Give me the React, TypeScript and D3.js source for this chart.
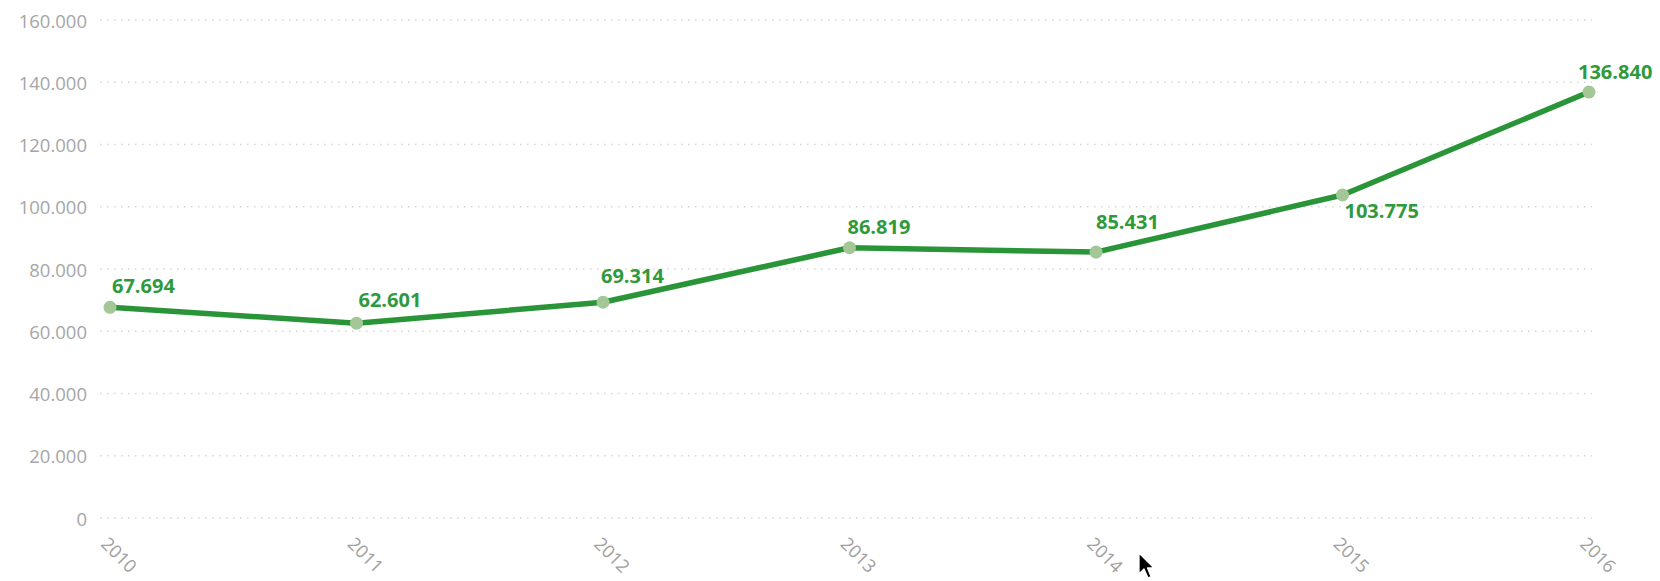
import React from "react";
import * as d3 from "d3";

const years = ["2010", "2011", "2012", "2013", "2014", "2015", "2016"];
const values = [67.694, 62.601, 69.314, 86.819, 85.431, 103.775, 136.84];
const yTicks = [0, 20, 40, 60, 80, 100, 120, 140, 160];

// label placement relative to each point (dx, baseline dy)
const labelOffsets: [number, number][] = [
  [2, -14],
  [2, -16],
  [-2, -19],
  [-2, -14],
  [0, -23],
  [2, 23],
  [-11, -13],
];

const W = 1660;
const H = 581;

const fmtLabel = (v: number) => d3.format(".3f")(v);
const fmtTick = (v: number) => (v === 0 ? "0" : `${v}.000`);

export default function App() {
  const x = d3.scalePoint<string>().domain(years).range([110, 1589]);
  const y = d3.scaleLinear().domain([0, 160]).range([518, 20]);
  const line = d3
    .line<number>()
    .x((_, i) => x(years[i]) as number)
    .y((d) => y(d));

  const lineColor = "#2a9538";
  const labelColor = "#2f9a3c";
  const font = "'Open Sans', sans-serif";

  return (
    <div style={{ position: "absolute", left: 0, top: 0 }}>
      <svg width={W} height={H} style={{ display: "block", background: "#fff" }}>
        {yTicks.map((t) => (
          <g key={t}>
            <line
              x1={100}
              x2={1592}
              y1={y(t)}
              y2={y(t)}
              stroke="#d6d6d6"
              strokeWidth={1.3}
              strokeDasharray="1.5 5.5"
            />
            <text
              x={87}
              y={y(t)}
              textAnchor="end"
              dominantBaseline="central"
              fontFamily={font}
              fontSize={18.5}
              fill="#a6a6a6"
            >
              {fmtTick(t)}
            </text>
          </g>
        ))}
        {years.map((yr) => {
          const px = (x(yr) as number) - 10;
          const py = 545;
          return (
            <text
              key={yr}
              x={px}
              y={py}
              transform={`rotate(45 ${px} ${py})`}
              textAnchor="start"
              fontFamily={font}
              fontSize={18}
              fill="#a0a0a0"
            >
              {yr}
            </text>
          );
        })}
        <path
          d={line(values) || ""}
          fill="none"
          stroke={lineColor}
          strokeWidth={5.5}
          strokeLinejoin="round"
          strokeLinecap="round"
        />
        {values.map((v, i) => (
          <circle
            key={i}
            cx={x(years[i]) as number}
            cy={y(v)}
            r={6.5}
            fill="#a4c797"
          />
        ))}
        {values.map((v, i) => (
          <text
            key={"l" + i}
            x={(x(years[i]) as number) + labelOffsets[i][0]}
            y={y(v) + labelOffsets[i][1]}
            fontFamily={font}
            fontWeight={700}
            fontSize={20}
            fill={labelColor}
            textAnchor="start"
          >
            {fmtLabel(v)}
          </text>
        ))}
        <path
          transform="translate(1139,553)"
          d="M0,0 L0,21 L5,16 L9,25 L12,23.5 L8.5,15 L15,15 Z"
          fill="#000"
          stroke="#fff"
          strokeWidth={1.3}
          strokeLinejoin="round"
        />
      </svg>
    </div>
  );
}
